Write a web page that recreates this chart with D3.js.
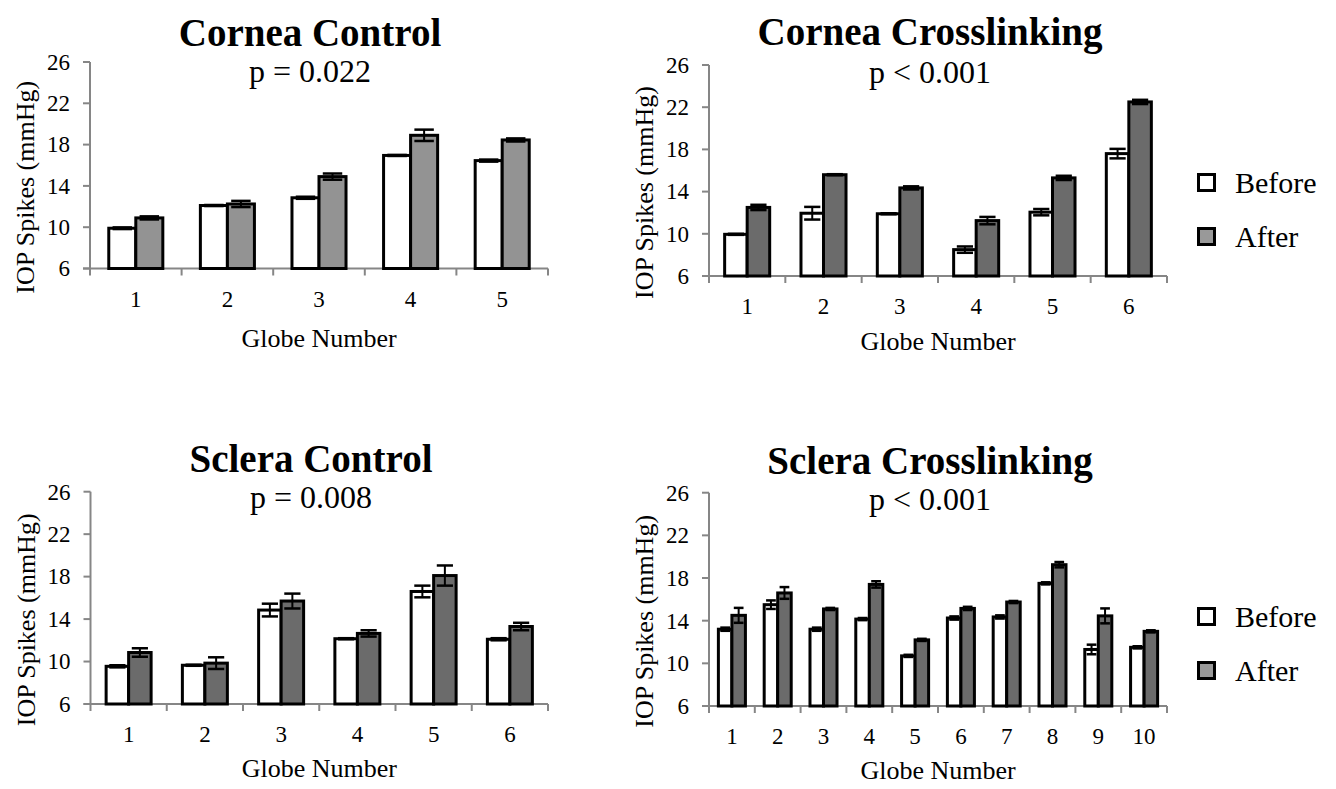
<!DOCTYPE html>
<html><head><meta charset="utf-8">
<script src="https://cdn.jsdelivr.net/npm/d3@7"></script>
<style>body{margin:0;background:#fff}svg{display:block}text{font-family:"Liberation Serif","Times New Roman",serif;fill:#000}</style>
</head><body><svg id="c" width="1336" height="789"></svg>
<script>
const series = ["Before", "After"];
const yTicks = [6, 10, 14, 18, 22, 26];

const ccGlobes = ["1","2","3","4","5"];
const ccBefore = [9.9, 12.1, 12.85, 16.95, 16.45];
const ccAfter = [10.9, 12.25, 14.9, 18.9, 18.45];
const ccBeforeErr = [0.08, 0.05, 0.1, 0.05, 0.1];
const ccAfterErr = [0.15, 0.3, 0.3, 0.55, 0.15];

const cxGlobes = ["1","2","3","4","5","6"];
const cxBefore = [9.95, 11.95, 11.9, 8.5, 12.05, 17.6];
const cxAfter = [12.5, 15.6, 14.35, 11.25, 15.3, 22.5];
const cxBeforeErr = [0.05, 0.6, 0.05, 0.3, 0.3, 0.45];
const cxAfterErr = [0.25, 0.05, 0.15, 0.35, 0.2, 0.2];

const scGlobes = ["1","2","3","4","5","6"];
const scBefore = [9.55, 9.65, 14.85, 12.15, 16.6, 12.1];
const scAfter = [10.85, 9.85, 15.7, 12.65, 18.1, 13.3];
const scBeforeErr = [0.1, 0.05, 0.6, 0.05, 0.55, 0.1];
const scAfterErr = [0.4, 0.55, 0.7, 0.3, 0.95, 0.35];

const sxGlobes = ["1","2","3","4","5","6","7","8","9","10"];
const sxBefore = [13.2, 15.5, 13.2, 14.15, 10.7, 14.25, 14.35, 17.5, 11.3, 11.5];
const sxAfter = [14.5, 16.6, 15.1, 17.4, 12.2, 15.15, 15.75, 19.25, 14.45, 13.0];
const sxBeforeErr = [0.15, 0.4, 0.15, 0.1, 0.1, 0.15, 0.15, 0.1, 0.45, 0.1];
const sxAfterErr = [0.7, 0.55, 0.1, 0.3, 0.1, 0.15, 0.1, 0.25, 0.7, 0.1];

const panels = [
  {title:"Cornea Control", p:"p = 0.022", globes:ccGlobes, before:ccBefore, after:ccAfter, bErr:ccBeforeErr, aErr:ccAfterErr,
   x0:90, x1:548, yT:62, yB:268.5, afterFill:"#939393", titleX:310, titleY:46, pY:82, xtY:347},
  {title:"Cornea Crosslinking", p:"p < 0.001", globes:cxGlobes, before:cxBefore, after:cxAfter, bErr:cxBeforeErr, aErr:cxAfterErr,
   x0:709, x1:1167, yT:65, yB:276, afterFill:"#6b6b6b", titleX:930, titleY:45, pY:83, xtY:350},
  {title:"Sclera Control", p:"p = 0.008", globes:scGlobes, before:scBefore, after:scAfter, bErr:scBeforeErr, aErr:scAfterErr,
   x0:90.5, x1:548, yT:491.7, yB:704, afterFill:"#6b6b6b", titleX:311, titleY:472, pY:508, xtY:777},
  {title:"Sclera Crosslinking", p:"p < 0.001", globes:sxGlobes, before:sxBefore, after:sxAfter, bErr:sxBeforeErr, aErr:sxAfterErr,
   x0:709, x1:1167, yT:492.7, yB:706, afterFill:"#6b6b6b", titleX:930, titleY:474, pY:510, xtY:779}
];

const legends = [{x:1197, y:173}, {x:1197, y:607}];

const svg = d3.select("#c");

panels.forEach(P => {
  const g = svg.append("g");
  const n = P.globes.length;
  const x = d3.scaleBand().domain(P.globes).range([P.x0, P.x1]).paddingInner(0.41).paddingOuter(0.205);
  const xs = d3.scaleBand().domain(series).range([0, x.bandwidth()]);
  const y = d3.scaleLinear().domain([6, 26]).range([P.yB, P.yT]);

  // titles
  g.append("text").attr("x", P.titleX).attr("y", P.titleY).attr("text-anchor","middle")
    .style("font-size","39px").style("font-weight","bold").text(P.title);
  g.append("text").attr("x", P.titleX).attr("y", P.pY).attr("text-anchor","middle")
    .style("font-size","32px").text(P.p);

  // axes
  const axCol = "#868686";
  g.append("line").attr("x1", P.x0).attr("x2", P.x0).attr("y1", y(26)).attr("y2", y(6))
    .attr("stroke", axCol).attr("stroke-width", 2);
  yTicks.forEach(t => {
    g.append("line").attr("x1", P.x0 - 7).attr("x2", P.x0).attr("y1", y(t)).attr("y2", y(t))
      .attr("stroke", axCol).attr("stroke-width", 2);
    g.append("text").attr("x", P.x0 - 20).attr("y", y(t)).attr("dy", "0.34em")
      .attr("text-anchor","end").style("font-size","23px").text(t);
  });
  g.append("line").attr("x1", P.x0 - 7).attr("x2", P.x1).attr("y1", y(6)).attr("y2", y(6))
    .attr("stroke", axCol).attr("stroke-width", 2);
  const step = x.step();
  for (let i = 0; i <= n; i++) {
    const tx = P.x0 + i * step;
    g.append("line").attr("x1", tx).attr("x2", tx).attr("y1", y(6)).attr("y2", y(6) + 7)
      .attr("stroke", axCol).attr("stroke-width", 2);
  }
  P.globes.forEach(c => {
    g.append("text").attr("x", x(c) + x.bandwidth()/2).attr("y", y(6) + 38)
      .attr("text-anchor","middle").style("font-size","23px").text(c);
  });
  g.append("text").attr("x", (P.x0 + P.x1)/2).attr("y", P.xtY).attr("text-anchor","middle")
    .style("font-size","26px").text("Globe Number");
  g.append("text").attr("transform", `translate(${P.x0 - 56},${(P.yT + P.yB)/2 + 22}) rotate(-90)`)
    .attr("text-anchor","middle").style("font-size","26px").text("IOP Spikes (mmHg)");

  // bars
  const rows = [];
  P.globes.forEach((c, i) => {
    rows.push({c, s:"Before", v:P.before[i], e:P.bErr[i], fill:"#ffffff"});
    rows.push({c, s:"After", v:P.after[i], e:P.aErr[i], fill:P.afterFill});
  });
  g.selectAll("rect.bar").data(rows).enter().append("rect").attr("class","bar")
    .attr("x", d => x(d.c) + xs(d.s))
    .attr("width", xs.bandwidth())
    .attr("y", d => y(d.v))
    .attr("height", d => y(6) - y(d.v))
    .attr("fill", d => d.fill).attr("stroke", "#000").attr("stroke-width", 3);
  const cap = xs.bandwidth() * 0.36;
  rows.forEach(d => {
    const cx = x(d.c) + xs(d.s) + xs.bandwidth()/2;
    g.append("line").attr("x1", cx).attr("x2", cx).attr("y1", y(d.v + d.e)).attr("y2", y(d.v - d.e))
      .attr("stroke","#000").attr("stroke-width", 2);
    [d.v + d.e, d.v - d.e].forEach(vv => {
      g.append("line").attr("x1", cx - cap).attr("x2", cx + cap).attr("y1", y(vv)).attr("y2", y(vv))
        .attr("stroke","#000").attr("stroke-width", 2.5);
    });
  });
});

// legends
legends.forEach(L => {
  const g = svg.append("g");
  series.forEach((s, i) => {
    const yy = L.y + i * 54;
    g.append("rect").attr("x", L.x + 1.5).attr("y", yy + 1.5).attr("width", 16).attr("height", 16)
      .attr("fill", i === 0 ? "#fff" : "#999").attr("stroke", "#000").attr("stroke-width", 3);
    g.append("text").attr("x", L.x + 38).attr("y", yy + 20).style("font-size","30px").text(s);
  });
});
</script></body></html>
